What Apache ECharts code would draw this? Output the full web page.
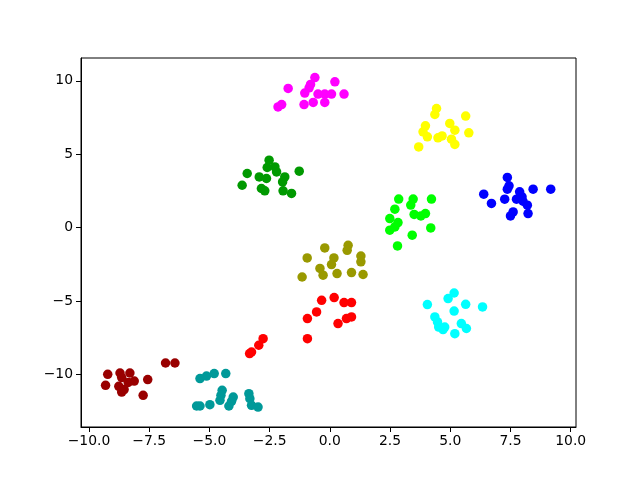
<!DOCTYPE html>
<html><head><meta charset="utf-8">
<script src="https://cdn.jsdelivr.net/npm/echarts@6/dist/echarts.min.js"></script>
<style>html,body{margin:0;padding:0;background:#fff}#c{width:640px;height:480px}</style>
</head><body><div id="c"></div>
<script>
const xTicks = [-10, -7.5, -5, -2.5, 0, 2.5, 5, 7.5, 10];
const yTicks = [-10, -5, 0, 5, 10];

const magenta = [[-0.62,10.22],[0.21,9.93],[-1.73,9.48],[-0.86,9.52],[-0.80,9.75],[-1.04,9.16],[-0.49,9.09],[-0.21,9.09],[0.07,9.09],[0.59,9.09],[-0.69,8.52],[-1.07,8.38],[-0.21,8.52],[-2.00,8.38],[-2.15,8.22]];
const yellow = [[4.43,8.11],[4.36,7.70],[5.64,7.59],[3.97,6.93],[4.98,7.09],[5.19,6.63],[3.87,6.52],[4.05,6.18],[4.49,6.11],[4.66,6.24],[5.77,6.45],[5.05,6.02],[5.19,5.66],[3.69,5.49]];
const green = [[-2.52,4.59],[-2.60,4.09],[-2.28,4.13],[-2.21,3.79],[-1.27,3.84],[-3.43,3.68],[-2.93,3.45],[-2.63,3.34],[-1.87,3.45],[-1.96,3.11],[-3.64,2.88],[-2.84,2.66],[-2.70,2.50],[-1.94,2.50],[-1.59,2.32]];
const lime = [[2.86,1.94],[3.46,1.94],[4.22,1.94],[3.36,1.53],[2.70,1.25],[3.50,0.89],[3.78,0.79],[3.97,0.95],[2.49,0.61],[2.83,0.34],[2.70,0.04],[2.49,-0.18],[4.19,-0.03],[3.42,-0.52],[2.81,-1.25]];
const blue = [[7.37,3.41],[7.44,2.84],[7.37,2.61],[8.44,2.61],[9.17,2.61],[6.39,2.27],[7.88,2.43],[7.26,1.93],[7.75,1.93],[7.98,2.09],[8.02,1.79],[6.71,1.64],[8.20,1.52],[7.61,1.06],[7.50,0.79],[8.23,0.95]];
const olive = [[-0.21,-1.39],[0.76,-1.21],[0.72,-1.55],[-0.94,-2.07],[0.17,-2.07],[1.29,-1.94],[1.29,-2.34],[0.07,-2.52],[-0.41,-2.79],[-0.28,-3.25],[0.30,-3.14],[0.90,-3.07],[1.38,-3.20],[-1.15,-3.37]];
const red = [[0.18,-4.77],[-0.34,-4.96],[0.59,-5.11],[0.90,-5.11],[-0.55,-5.75],[-0.93,-6.20],[0.90,-6.09],[0.69,-6.20],[0.34,-6.54],[-0.93,-7.57],[-2.77,-7.57],[-2.95,-8.02],[-3.25,-8.48],[-3.33,-8.59]];
const cyan = [[5.16,-4.46],[4.91,-4.84],[4.05,-5.25],[5.64,-5.23],[6.34,-5.41],[5.16,-5.69],[4.36,-6.09],[4.47,-6.43],[4.77,-6.78],[4.70,-6.95],[5.46,-6.54],[5.67,-6.88],[5.19,-7.23],[4.52,-6.78]];
const darkred = [[-6.82,-9.23],[-6.43,-9.23],[-9.22,-10.00],[-8.71,-9.91],[-8.30,-9.91],[-8.64,-10.22],[-8.12,-10.46],[-7.56,-10.36],[-9.31,-10.75],[-8.76,-10.82],[-8.54,-11.04],[-8.64,-11.21],[-7.75,-11.43],[-8.37,-10.55]];
const teal = [[-5.39,-10.29],[-5.12,-10.12],[-4.80,-9.95],[-4.32,-9.95],[-4.47,-11.09],[-4.52,-11.43],[-4.01,-11.55],[-4.08,-11.84],[-3.36,-11.32],[-3.32,-11.66],[-4.56,-11.77],[-4.19,-12.16],[-5.53,-12.16],[-5.39,-12.16],[-4.98,-12.07],[-3.25,-12.11],[-2.98,-12.23]];

const clusters = [
  [magenta, '#ff00ff'], [yellow, '#ffff00'], [green, '#009900'], [lime, '#00ff00'],
  [blue, '#0000ff'], [olive, '#999900'], [red, '#ff0000'], [cyan, '#00ffff'],
  [darkred, '#990000'], [teal, '#009999']
];

const fmtMinus = s => s.replace('-', '\u2212');
const font = 'DejaVu Sans';
const chart = echarts.init(document.getElementById('c'), null, {renderer: 'canvas'});
chart.setOption({
  animation: false,
  backgroundColor: '#fff',
  grid: {left: 81, right: 64, top: 58, bottom: 53, show: true, borderColor: '#000', borderWidth: 1, containLabel: false},
  xAxis: {
    type: 'value', min: -10.33, max: 10.22, splitLine: {show: false},
    axisLine: {onZero: false, lineStyle: {color: '#000'}},
    axisTick: {customValues: xTicks, length: 5, lineStyle: {color: '#000'}},
    axisLabel: {customValues: xTicks, margin: 7, color: '#000', fontFamily: font, fontSize: 13.9,
      formatter: v => fmtMinus(v.toFixed(1))}
  },
  yAxis: {
    type: 'value', min: -13.59, max: 11.55, splitLine: {show: false},
    axisLine: {onZero: false, lineStyle: {color: '#000'}},
    axisTick: {customValues: yTicks, length: 5, lineStyle: {color: '#000'}},
    axisLabel: {customValues: yTicks, margin: 8, color: '#000', fontFamily: font, fontSize: 13.9,
      formatter: v => fmtMinus(String(v))}
  },
  series: clusters.map(([pts, col]) => ({
    type: 'scatter', data: pts, symbol: 'circle', symbolSize: 9.5,
    itemStyle: {color: col, opacity: 1}
  }))
});
</script></body></html>
